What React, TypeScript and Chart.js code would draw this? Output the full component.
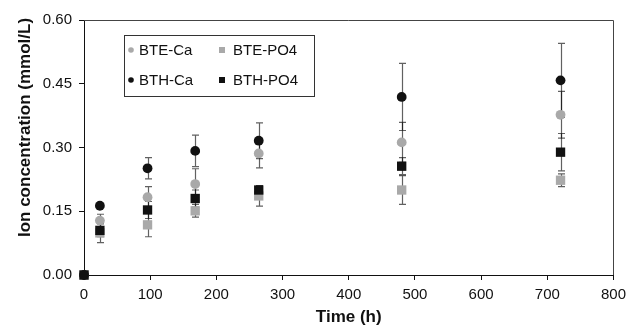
import React, { useEffect, useRef } from "react";
import { Chart, registerables } from "chart.js";

Chart.register(...registerables);

const times = [0, 24, 96, 168, 264, 480, 720];
const bteCa = [0, 0.128, 0.183, 0.214, 0.286, 0.312, 0.377];
const bteCaErr = [0, 0.015, 0.025, 0.036, 0.034, 0.047, 0.055];
const btePO4 = [0, 0.099, 0.118, 0.151, 0.186, 0.2, 0.223];
const btePO4Err = [0, 0.023, 0.028, 0.015, 0.024, 0.034, 0.015];
const bthCa = [0, 0.163, 0.251, 0.292, 0.316, 0.419, 0.458];
const bthCaErr = [0, 0.004, 0.025, 0.037, 0.042, 0.079, 0.087];
const bthPO4 = [0, 0.105, 0.153, 0.18, 0.2, 0.256, 0.289];
const bthPO4Err = [0, 0.015, 0.02, 0.02, 0.01, 0.02, 0.044];

const xTitle = "Time (h)";
const yTitle = "Ion concentration (mmol/L)";

const GREY = "#a9a9a9";
const BLACK = "#111111";
const FONT = "'Liberation Sans', Arial, sans-serif";

const legendItems = [
  { label: "BTE-Ca", color: GREY, style: "circle" },
  { label: "BTE-PO4", color: GREY, style: "rect" },
  { label: "BTH-Ca", color: BLACK, style: "circle" },
  { label: "BTH-PO4", color: BLACK, style: "rect" },
];

const toPts = (ys: number[]) => times.map((t, i) => ({ x: t, y: ys[i] }));

const errorBarPlugin = {
  id: "errorBars",
  beforeDatasetsDraw(chart: any) {
    const ctx = chart.ctx;
    const yScale = chart.scales.y;
    ctx.save();
    ctx.strokeStyle = "rgba(0,0,0,0.62)";
    ctx.lineWidth = 1.2;
    chart.data.datasets.forEach((ds: any, di: number) => {
      const meta = chart.getDatasetMeta(di);
      meta.data.forEach((el: any, i: number) => {
        const e = ds.errors[i];
        if (!e) return;
        const v = ds.data[i].y;
        const yTop = yScale.getPixelForValue(v + e);
        const yBot = yScale.getPixelForValue(v - e);
        const x = Math.round(el.x) + 0.5;
        ctx.beginPath();
        ctx.moveTo(x, yTop);
        ctx.lineTo(x, yBot);
        ctx.moveTo(x - 3.5, yTop);
        ctx.lineTo(x + 3.5, yTop);
        ctx.moveTo(x - 3.5, yBot);
        ctx.lineTo(x + 3.5, yBot);
        ctx.stroke();
      });
    });
    ctx.restore();
  },
};

const decorPlugin = {
  id: "decor",
  afterDraw(chart: any) {
    const ctx = chart.ctx;
    const { left, right, top, bottom } = chart.chartArea;
    ctx.save();
    ctx.strokeStyle = "#444";
    ctx.lineWidth = 1;
    ctx.beginPath();
    ctx.moveTo(left, Math.round(top) + 0.5);
    ctx.lineTo(Math.round(right) + 0.5, Math.round(top) + 0.5);
    ctx.lineTo(Math.round(right) + 0.5, bottom);
    ctx.stroke();

    ctx.fillStyle = "#111";
    ctx.font = `bold 17px ${FONT}`;
    ctx.textAlign = "center";
    ctx.textBaseline = "middle";
    ctx.fillText(xTitle, (left + right) / 2, bottom + 42);
    ctx.save();
    ctx.translate(left - 59, (top + bottom) / 2 - 20);
    ctx.rotate(-Math.PI / 2);
    ctx.fillText(yTitle, 0, 0);
    ctx.restore();

    const bx = left + 40;
    const by = top + 15;
    const bw = 190;
    const bh = 61;
    ctx.fillStyle = "#fff";
    ctx.fillRect(bx, by, bw, bh);
    ctx.strokeStyle = "#333";
    ctx.strokeRect(bx + 0.5, by + 0.5, bw, bh);
    ctx.font = `15px ${FONT}`;
    ctx.textAlign = "left";
    legendItems.forEach((it, i) => {
      const col = i % 2;
      const row = Math.floor(i / 2);
      const mx = bx + 7 + col * 91;
      const my = by + 15 + row * 30;
      ctx.fillStyle = it.color;
      if (it.style === "circle") {
        ctx.beginPath();
        ctx.arc(mx, my, 2.8, 0, Math.PI * 2);
        ctx.fill();
      } else {
        ctx.fillRect(mx - 3, my - 3, 6, 6);
      }
      ctx.fillStyle = "#111";
      ctx.fillText(it.label, mx + (col === 0 ? 8 : 11), my + 1);
    });
    ctx.restore();
  },
};

export default function App() {
  const ref = useRef<HTMLCanvasElement | null>(null);
  useEffect(() => {
    if (!ref.current) return;
    const mk = (label: string, ys: number[], errs: number[], color: string, style: string, order: number) => ({
      label,
      data: toPts(ys),
      errors: errs,
      backgroundColor: color,
      borderColor: color,
      borderWidth: 0,
      pointStyle: style,
      pointRadius: style === "rect" ? 6.6 : 4.9,
      showLine: false,
      clip: false,
      order,
    });
    const chart = new Chart(ref.current, {
      type: "scatter",
      data: {
        datasets: [
          mk("BTE-Ca", bteCa, bteCaErr, GREY, "circle", 3),
          mk("BTE-PO4", btePO4, btePO4Err, GREY, "rect", 2),
          mk("BTH-Ca", bthCa, bthCaErr, BLACK, "circle", 1),
          mk("BTH-PO4", bthPO4, bthPO4Err, BLACK, "rect", 0),
        ] as any,
      },
      options: {
        animation: false,
        responsive: false,
        devicePixelRatio: 1,
        layout: { padding: { top: 20, right: 15, left: 0, bottom: 0 } },
        plugins: { legend: { display: false }, tooltip: { enabled: false } },
        scales: {
          x: {
            type: "linear",
            min: 0,
            max: 800,
            afterFit: (s: any) => {
              s.height = 55;
            },
            ticks: {
              stepSize: 100,
              color: "#111",
              padding: 6,
              font: { family: FONT, size: 15 },
              autoSkip: false,
              maxRotation: 0,
            },
            grid: { drawOnChartArea: false, tickLength: 5, color: "#111" },
            border: { color: "#111", width: 1 },
          },
          y: {
            min: 0,
            max: 0.6,
            afterFit: (s: any) => {
              s.width = 84;
            },
            ticks: {
              stepSize: 0.15,
              color: "#111",
              padding: 7,
              font: { family: FONT, size: 15 },
              callback: (v: any) => Number(v).toFixed(2),
            },
            grid: { drawOnChartArea: false, tickLength: 5, color: "#111" },
            border: { color: "#111", width: 1 },
          },
        },
      },
      plugins: [errorBarPlugin, decorPlugin],
    });
    return () => chart.destroy();
  }, []);
  return (
    <div style={{ position: "absolute", left: 0, top: 0, width: 632, height: 330, background: "#fff" }}>
      <canvas ref={ref} width={632} height={330} />
    </div>
  );
}
